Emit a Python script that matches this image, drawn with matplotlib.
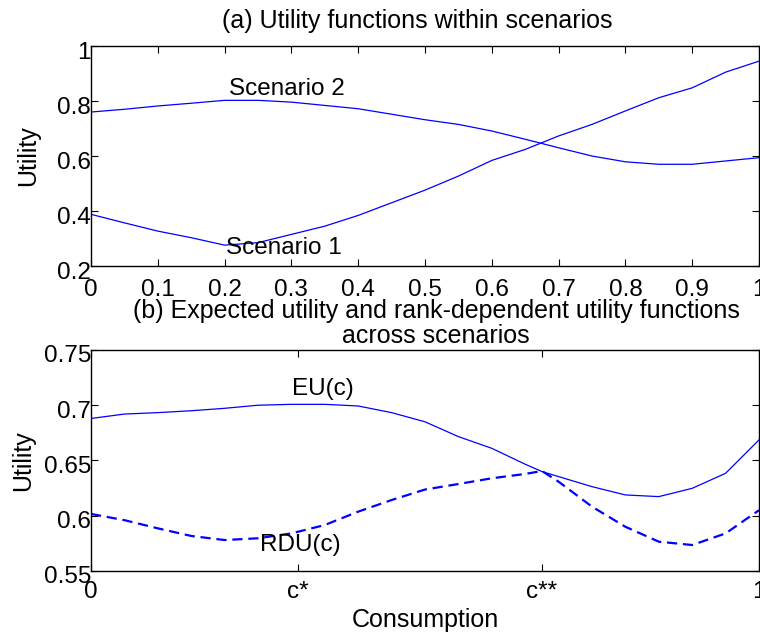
import matplotlib
matplotlib.use("Agg")
import matplotlib.pyplot as plt
from matplotlib.transforms import ScaledTranslation

plt.rcParams['font.family'] = ['Liberation Sans', 'DejaVu Sans']

# (a) utility within each scenario, on an evenly spaced consumption grid
consumption_a = [0.0, 0.05, 0.1, 0.15, 0.2, 0.25, 0.3, 0.35, 0.4, 0.45, 0.5,
                 0.55, 0.6, 0.65, 0.7, 0.75, 0.8, 0.85, 0.9, 0.95, 1.0]
scenario1 = [0.388, 0.357, 0.327, 0.303, 0.276, 0.285, 0.315, 0.345, 0.384, 0.430, 0.476,
             0.527, 0.584, 0.624, 0.673, 0.715, 0.764, 0.812, 0.848, 0.905, 0.945]
scenario2 = [0.760, 0.770, 0.782, 0.792, 0.8025, 0.8025, 0.796, 0.784, 0.772, 0.752, 0.732,
             0.715, 0.691, 0.661, 0.630, 0.600, 0.579, 0.570, 0.570, 0.582, 0.594]

# (b) expected utility and rank-dependent utility; grid includes the kink at c**
consumption_b = [0.0, 0.05, 0.1, 0.15, 0.2, 0.25, 0.3, 0.35, 0.4, 0.45, 0.5,
                 0.55, 0.6, 0.65, 0.675, 0.7, 0.75, 0.8, 0.85, 0.9, 0.95, 1.0]
eu = [0.688, 0.692, 0.6933, 0.695, 0.6972, 0.700, 0.7008, 0.7008, 0.6993, 0.6933, 0.685,
      0.6716, 0.661, 0.6466, 0.640, 0.6354, 0.6263, 0.6188, 0.6173, 0.6248, 0.6384, 0.6686]
rdu = [0.6016, 0.596, 0.5886, 0.5817, 0.578, 0.5796, 0.584, 0.5916, 0.6037, 0.6142, 0.6237,
       0.6287, 0.6339, 0.6378, 0.6405, 0.6308, 0.6082, 0.590, 0.5765, 0.5735, 0.584, 0.605]

top_xticks = [0, 0.1, 0.2, 0.3, 0.4, 0.5, 0.6, 0.7, 0.8, 0.9, 1]
top_xlabels = ['0', '0.1', '0.2', '0.3', '0.4', '0.5', '0.6', '0.7', '0.8', '0.9', '1']
top_yticks = [0.2, 0.4, 0.6, 0.8, 1.0]
top_ylabels = ['0.2', '0.4', '0.6', '0.8', '1']

bottom_xticks = [0, 0.31, 0.675, 1]
bottom_xlabels = ['0', 'c*', 'c**', '1']
bottom_yticks = [0.55, 0.6, 0.65, 0.7, 0.75]
bottom_ylabels = ['0.55', '0.6', '0.65', '0.7', '0.75']

FS = 17.5       # tick labels and in-plot annotations
FS_LABEL = 18   # axis labels and titles
BLUE = (0, 0, 1)

fig = plt.figure(figsize=(7.6, 6.34), dpi=100)
ax1 = fig.add_axes([0.1197, 0.5804, 0.879, 0.347])
ax2 = fig.add_axes([0.1197, 0.0994, 0.879, 0.3486])

# nudge y tick labels slightly below their ticks
ydown = ScaledTranslation(0, -4 / 100, fig.dpi_scale_trans)


def style(ax, xpad):
    ax.tick_params(direction='in', top=True, right=True, length=5,
                   width=0.8, labelsize=FS)
    ax.tick_params(axis='x', pad=xpad)
    ax.tick_params(axis='y', pad=0)
    for s in ax.spines.values():
        s.set_linewidth(1.0)
    for lab in ax.get_yticklabels():
        lab.set_transform(lab.get_transform() + ydown)


ax1.plot(consumption_a, scenario1, color=BLUE, lw=0.9)
ax1.plot(consumption_a, scenario2, color=BLUE, lw=0.9)
ax1.set_xlim(0, 1)
ax1.set_ylim(0.2, 1.0)
ax1.set_xticks(top_xticks, top_xlabels)
ax1.set_yticks(top_yticks, top_ylabels)
style(ax1, 9.5)
ax1.set_ylabel('Utility', fontsize=FS_LABEL, labelpad=12)
fig.text(0.5487, 1 - 28 / 634, '(a) Utility functions within scenarios',
         fontsize=FS_LABEL, ha='center', va='baseline')
ax1.text(0.207, 0.8425, 'Scenario 2', fontsize=FS, va='center', ha='left')
ax1.text(0.202, 0.2667, 'Scenario 1', fontsize=FS, va='center', ha='left')

ax2.plot(consumption_b, eu, color=BLUE, lw=0.9)
ax2.plot(consumption_b, rdu, color=BLUE, lw=1.6, ls=(0, (4.6, 2.6)))
ax2.set_xlim(0, 1)
ax2.set_ylim(0.55, 0.75)
ax2.set_xticks(bottom_xticks, bottom_xlabels)
ax2.set_yticks(bottom_yticks, bottom_ylabels)
style(ax2, 7.5)
ax2.set_ylabel('Utility', fontsize=FS_LABEL, labelpad=6)
ax2.set_xlabel('Consumption', fontsize=FS_LABEL, labelpad=3)
fig.text(0.5737, 1 - 318 / 634,
         '(b) Expected utility and rank-dependent utility functions',
         fontsize=FS_LABEL, ha='center', va='baseline')
fig.text(0.5737, 1 - 343 / 634, 'across scenarios',
         fontsize=FS_LABEL, ha='center', va='baseline')
ax2.text(0.3004, 0.7144, 'EU(c)', fontsize=FS, va='center', ha='left')
ax2.text(0.253, 0.5738, 'RDU(c)', fontsize=FS, va='center', ha='left')

fig.savefig('out.png', dpi=100)
